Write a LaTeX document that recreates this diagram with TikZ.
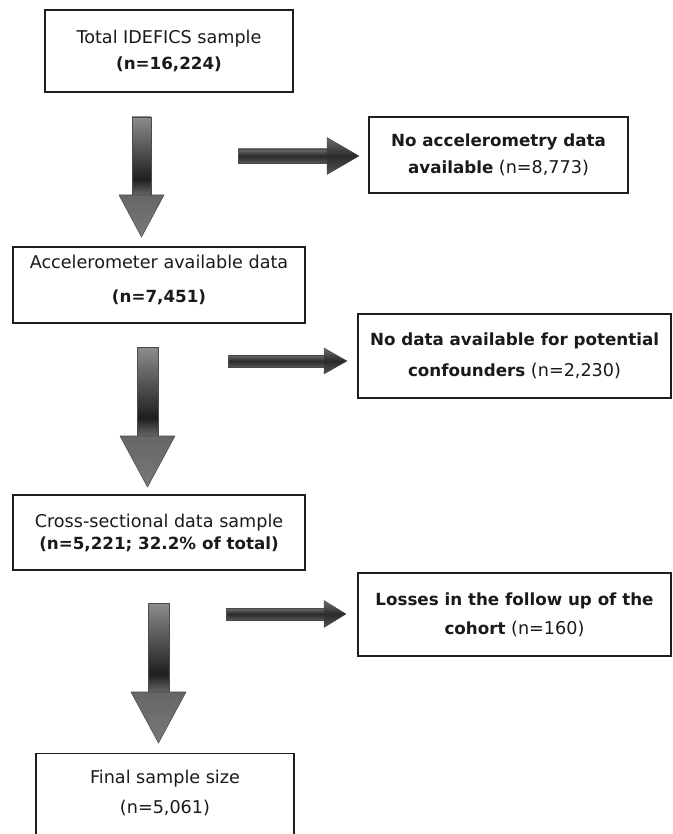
\documentclass[tikz,border=0pt]{standalone}
\usepackage{fontspec}
\setmainfont{DejaVu Sans}[BoldFeatures={Scale=0.95}]
\usetikzlibrary{calc}
\definecolor{boxline}{HTML}{1E1E1E}
\definecolor{textcol}{HTML}{1A1A1A}
\definecolor{sgtop}{HTML}{8C8C8C}
\definecolor{sgdark}{HTML}{1F1F1F}
\definecolor{sghead}{HTML}{666666}
\definecolor{sgheadlo}{HTML}{787878}
\definecolor{sgedge}{HTML}{4A4A4A}
\definecolor{rtop}{HTML}{6E6E6E}
\definecolor{rmid}{HTML}{2A2A2A}
\definecolor{rbot}{HTML}{555555}

% #1 name, #2 cx, #3 top, #4 headtop, #5 tip, #6 half shaft, #7 half head
\newcommand\BlockDown[7]{%
  \coordinate (#1-s) at (#2,#3);
  \coordinate (#1-e) at (#2,#5);
  \pgfmathsetmacro\dkpos{#3+0.8*(#4-#3)}
  \shade[top color=sgtop, bottom color=sgdark] (#2-#6,#3) rectangle (#2+#6,\dkpos);
  \shade[top color=sgdark, bottom color=sghead] (#2-#6,\dkpos) rectangle (#2+#6,#4);
  \draw[sgedge, line width=0.4pt] (#2-#6,#4) -- (#2-#6,#3) -- (#2+#6,#3) -- (#2+#6,#4);
  \shade[top color=sghead, bottom color=sgheadlo, draw=sgedge, line width=0.4pt, line join=round]
    (#2-#7,#4) -- (#2+#7,#4) -- (#1-e) -- cycle;
}
% #1 name, #2 cy, #3 left, #4 headstart, #5 tip, #6 half shaft, #7 half head
\newcommand\BlockRight[7]{%
  \coordinate (#1-s) at (#3,#2);
  \coordinate (#1-e) at (#5,#2);
  \shade[top color=rtop, bottom color=rbot, middle color=rmid, draw=sgedge, line width=0.3pt]
    (#3,#2-#6) rectangle (#4,#2+#6);
  \shade[top color=rtop, bottom color=rbot, middle color=rmid, draw=sgedge, line width=0.3pt, line join=round]
    (#4,#2-#7) -- (#1-e) -- (#4,#2+#7) -- cycle;
}

\begin{document}
\begin{tikzpicture}[x=0.75pt,y=-0.75pt,
  box/.style={draw=boxline, line width=1.1pt, align=center, inner sep=0pt,
    font=\fontsize{13.2}{15.5}\selectfont, text=textcol}]
\useasboundingbox (0,0) rectangle (673,834);
\clip (0,0) rectangle (673,834);
\fill[white] (0,0) rectangle (673,834);

\node[box, minimum width=186pt, minimum height=61.5pt] (b1) at (169,51)
  {Total IDEFICS sample\\[4pt]\textbf{(n=16,224)}};
\node[box, minimum width=194.25pt, minimum height=57pt] (b2) at (498.5,155)
  {\textbf{No accelerometry data}\\[4.5pt]\textbf{available} (n=8,773)};
\node[box, minimum width=219pt, minimum height=57pt] (b3) at (159,285)
  {Accelerometer available data\\[10pt]\textbf{(n=7,451)}\\[-6pt]\mbox{}};
\node[box, minimum width=234.75pt, minimum height=63pt] (b4) at (514.5,356)
  {\textbf{No data available for potential}\\[7.5pt]\textbf{confounders} (n=2,230)};
\node[box, minimum width=219pt, minimum height=56.25pt] (b5) at (159,532.5)
  {Cross-sectional data sample\\[1pt]\textbf{(n=5,221; 32.2\% of total)}};
\node[box, minimum width=234.75pt, minimum height=62.25pt] (b6) at (514.5,614.5)
  {\textbf{Losses in the follow up of the}\\[6.5pt]\textbf{cohort} (n=160)};
\node[box, minimum width=193.5pt, anchor=north, inner ysep=12pt, text depth=40pt] (b7) at (165,753)
  {Final sample size\\[7.5pt](n=5,061)};

\BlockDown{d1}{141.5}{117}{195}{237}{9.5}{22.5}
\BlockDown{d2}{147.5}{347}{436}{487}{10.5}{27.5}
\BlockDown{d3}{158.5}{603}{692}{743}{10.5}{27.5}
\BlockRight{r1}{156}{238}{327}{359}{7}{18.5}
\BlockRight{r2}{361}{228}{324}{347}{6}{13}
\BlockRight{r3}{614}{226}{324}{346}{6}{13.5}
\end{tikzpicture}
\end{document}
